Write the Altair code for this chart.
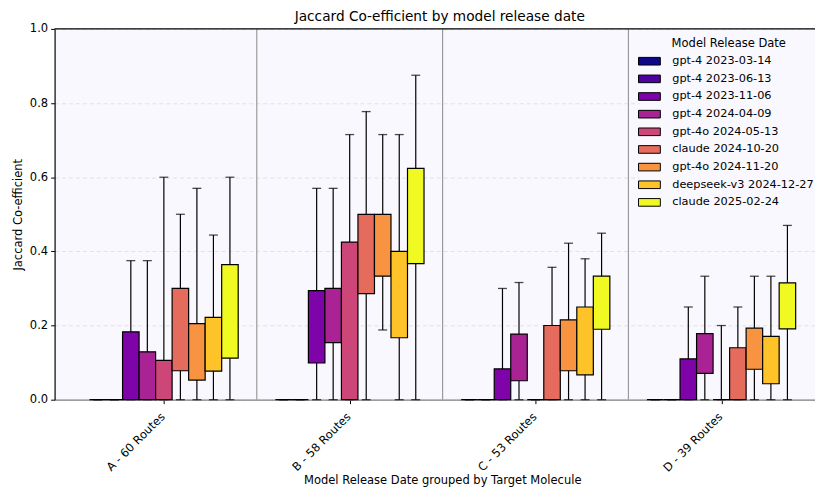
import json
import altair as alt
import pandas as pd

models = ["gpt-4 2023-03-14", "gpt-4 2023-06-13", "gpt-4 2023-11-06", "gpt-4 2024-04-09",
          "gpt-4o 2024-05-13", "claude 2024-10-20", "gpt-4o 2024-11-20",
          "deepseek-v3 2024-12-27", "claude 2025-02-24"]
colors = ["#0d0887", "#4c02a1", "#7e03a8", "#a92395", "#cc4778",
          "#e56b5d", "#f89441", "#fdc328", "#f0f921"]
groups = ["A - 60 Routes", "B - 58 Routes", "C - 53 Routes", "D - 39 Routes"]

# box bottom (q1), box top (q3), whisker low, whisker high per model
A_q1 = [0, 0, 0, 0, 0, 0.078, 0.053, 0.077, 0.112]
A_q3 = [0, 0, 0.183, 0.129, 0.106, 0.300, 0.205, 0.222, 0.364]
A_lo = [0, 0, 0, 0, 0, 0, 0, 0, 0]
A_hi = [0, 0, 0.375, 0.375, 0.600, 0.500, 0.570, 0.444, 0.600]

B_q1 = [0, 0, 0.099, 0.154, 0, 0.286, 0.333, 0.167, 0.367]
B_q3 = [0, 0, 0.294, 0.300, 0.425, 0.500, 0.500, 0.400, 0.624]
B_lo = [0, 0, 0, 0, 0, 0, 0.188, 0, 0]
B_hi = [0, 0, 0.570, 0.570, 0.715, 0.777, 0.715, 0.715, 0.875]

C_q1 = [0, 0, 0, 0.051, 0, 0, 0.078, 0.067, 0.190]
C_q3 = [0, 0, 0.083, 0.177, 0, 0.200, 0.215, 0.250, 0.333]
C_lo = [0, 0, 0, 0, 0, 0, 0, 0, 0]
C_hi = [0, 0, 0.300, 0.316, 0, 0.357, 0.422, 0.380, 0.449]

D_q1 = [0, 0, 0, 0.071, 0, 0, 0.082, 0.043, 0.191]
D_q3 = [0, 0, 0.110, 0.178, 0, 0.140, 0.193, 0.171, 0.315]
D_lo = [0, 0, 0, 0, 0, 0, 0, 0, 0]
D_hi = [0, 0, 0.250, 0.333, 0.200, 0.250, 0.333, 0.333, 0.470]

y_ticks = [0.0, 0.2, 0.4, 0.6, 0.8, 1.0]

stats = [(A_q1, A_q3, A_lo, A_hi), (B_q1, B_q3, B_lo, B_hi),
         (C_q1, C_q3, C_lo, C_hi), (D_q1, D_q3, D_lo, D_hi)]

BW = 0.8 / len(models)
rows = []
for gi, (g, (q1s, q3s, los, his)) in enumerate(zip(groups, stats)):
    for mi, m in enumerate(models):
        pos = gi + (mi - (len(models) - 1) / 2) * BW
        rows.append(dict(group=g, gi=gi, model=m, mi=mi, pos=pos,
                         x0=pos - BW / 2, x1=pos + BW / 2,
                         q1=q1s[mi], q3=q3s[mi], lo=los[mi], hi=his[mi]))
df = pd.DataFrame(rows)

FS = 11.6
BG = "#f9f8fe"

label_expr = json.dumps(groups) + "[round(datum.value)]"
xscale = alt.Scale(domain=[-0.588, 3.504], nice=False, zero=False)
xaxis = alt.Axis(values=list(range(len(groups))), labelExpr=label_expr, labelAngle=-45,
                 labelAlign="right", labelBaseline="top", labelFontSize=FS, labelColor="black",
                 labelOffset=-5, labelPadding=7,
                 grid=False, domainColor="#808080", domainWidth=1.2, tickColor="black",
                 tickSize=4,
                 title="Model Release Date grouped by Target Molecule", titleFontSize=FS,
                 titleFontWeight="normal", titleColor="black", titleX=391, titleY=76,
                 titleBaseline="top")
yscale = alt.Scale(domain=[0, 1], nice=False)
yaxis = alt.Axis(values=y_ticks, format=".1f", labelFontSize=FS, labelColor="black",
                 grid=True, gridColor="#dcdcdc", gridDash=[4, 3], gridWidth=0.8,
                 domainColor="black", domainWidth=1.2, tickColor="black", tickSize=4,
                 labelPadding=3, title="Jaccard Co-efficient", titleFontSize=FS,
                 titleFontWeight="normal", titleColor="black", titlePadding=6)

base = alt.Chart(df)

seps = base.transform_filter(alt.datum.mi == 0).transform_filter(
    alt.datum.gi < len(groups) - 1).transform_calculate(sep="datum.gi + 0.5").mark_rule(
    color="#9a9a9a", strokeWidth=1.2).encode(
    x=alt.X("sep:Q", scale=xscale, axis=xaxis))

top = alt.Chart(pd.DataFrame({"v": [y_ticks[-1]]})).mark_rule(
    color="black", strokeWidth=1.2).encode(y=alt.Y("v:Q", scale=yscale, axis=yaxis))

whisk = base.mark_rule(color="black", strokeWidth=1.2).encode(
    x=alt.X("pos:Q", scale=xscale, axis=xaxis),
    y=alt.Y("lo:Q", scale=yscale, axis=yaxis), y2="hi:Q")

cap_hi = base.mark_tick(orient="horizontal", size=9, thickness=1.3, color="black").encode(
    x=alt.X("pos:Q", scale=xscale, axis=xaxis), y=alt.Y("hi:Q", scale=yscale, axis=yaxis))
cap_lo = base.mark_tick(orient="horizontal", size=9, thickness=1.3, color="black").encode(
    x=alt.X("pos:Q", scale=xscale, axis=xaxis), y=alt.Y("lo:Q", scale=yscale, axis=yaxis))

legend = alt.Legend(title="Model Release Date", orient="none", legendX=590, legendY=5,
                    padding=4, fillColor=BG, titleAnchor="middle", titleFontSize=FS,
                    titleFontWeight="normal", titleColor="black", titlePadding=6,
                    labelFontSize=11.4, labelColor="black", labelOffset=17,
                    symbolType="M-2,-0.7L2,-0.7L2,0.7L-2,0.7Z", symbolSize=121,
                    symbolStrokeColor="black", symbolStrokeWidth=1, symbolOpacity=1,
                    rowPadding=5.8, labelLimit=300)

boxes = base.mark_rect(stroke="black", strokeWidth=1.2, opacity=1).encode(
    x=alt.X("x0:Q", scale=xscale, axis=xaxis), x2="x1:Q",
    y=alt.Y("q1:Q", scale=yscale, axis=yaxis), y2="q3:Q",
    fill=alt.Fill("model:N", scale=alt.Scale(domain=models, range=colors), legend=legend))

chart = alt.layer(seps, top, whisk, cap_hi, cap_lo, boxes).properties(
    width=767, height=374,
    autosize=alt.AutoSizeParams(type="none"),
    padding={"left": 47, "top": 19, "right": 0, "bottom": 87},
    title=alt.TitleParams("Jaccard Co-efficient by model release date", fontSize=13.8,
                          fontWeight="normal", color="black", dx=5, dy=1.5, offset=1),
).configure(font="DejaVu Sans").configure_view(fill=BG, stroke=None)

chart.save("out.html", embed_options={"renderer": "svg", "actions": False})
